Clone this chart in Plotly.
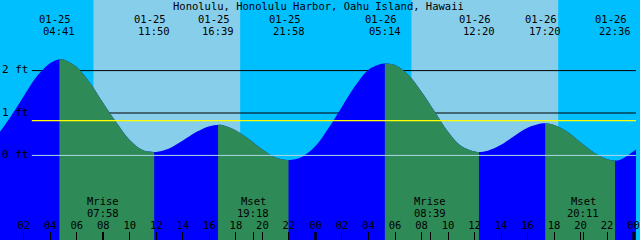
import plotly.graph_objects as go

TITLE = "Honolulu, Honolulu Harbor, Oahu Island, Hawaii"

# Tide height (ft), hours counted from 01-25 00:00
TIDE_HOURS = [0.0, 1.0, 2.0, 3.0, 4.0, 4.683, 5.0, 6.0, 7.0, 8.0, 9.0, 10.0, 11.0, 11.833,
              12.0, 13.0, 14.0, 15.0, 16.0, 16.65, 17.0, 18.0, 19.0, 20.0, 21.0, 21.967,
              23.0, 24.0, 25.0, 26.0, 27.0, 28.0, 29.0, 29.233, 30.0, 31.0, 32.0, 33.0,
              34.0, 35.0, 36.0, 36.333, 37.0, 38.0, 39.0, 40.0, 41.0, 41.333, 42.0, 43.0,
              44.0, 45.0, 46.0, 46.6, 47.0, 48.0, 48.5]
TIDE_FT = [0.47, 0.91, 1.40, 1.87, 2.18, 2.27, 2.26, 2.08, 1.71, 1.23, 0.77, 0.36, 0.12, 0.08,
           0.08, 0.17, 0.35, 0.55, 0.69, 0.72, 0.71, 0.59, 0.38, 0.14, -0.05, -0.11,
           -0.03, 0.22, 0.65, 1.15, 1.64, 2.02, 2.16, 2.17, 2.13, 1.90, 1.50, 1.03,
           0.56, 0.22, 0.09, 0.08, 0.11, 0.25, 0.46, 0.65, 0.75, 0.76, 0.72, 0.56,
           0.31, 0.07, -0.09, -0.12, -0.10, 0.10, 0.22]

# High / low tide events
EVENT_DAY = [0, 0, 0, 0, 1, 1, 1, 1]
EVENT_DATE = ["01-25", "01-25", "01-25", "01-25", "01-26", "01-26", "01-26", "01-26"]
EVENT_TIME = ["04:41", "11:50", "16:39", "21:58", "05:14", "12:20", "17:20", "22:36"]
EVENT_KIND = ["high", "low", "high", "low", "high", "low", "high", "low"]

# Moon rise / set
MOON_DAY = [0, 0, 1, 1]
MOON_NAME = ["Mrise", "Mset", "Mrise", "Mset"]
MOON_TIME = ["07:58", "19:18", "08:39", "20:11"]

# Daylight (sunrise / sunset) in hours
SUNRISE_HOURS = [7.25, 31.24]
SUNSET_HOURS = [18.32, 42.31]

DATUM_FT = [0, 1, 2]
DATUM_LABELS = ["0 ft", "1 ft", "2 ft"]
MEAN_LEVEL_FT = 0.82

TICK_HOURS = list(range(0, 49, 2))
TICK_LABELS = ["%02d" % (h % 24) for h in TICK_HOURS]
MIDNIGHT_HOURS = [24, 48]

# ---- styling ----
X_RANGE = [0.2024, 48.18]
Y_RANGE = [-1.995, 3.665]
NIGHT = "#00BFFF"
DAY = "#87CEEB"
RISE = "#0000FF"
FALL = "#2E8B57"
MONO = "DejaVu Sans Mono"
FONT = dict(family=MONO, size=10.5, color="black")
FONT_TITLE = dict(family=MONO, size=10.5, color="black")
FONT_FT = dict(family=MONO, size=11, color="black")
W, H = 640, 240


def hours(day, hhmm):
    hh, mm = hhmm.split(":")
    return day * 24 + int(hh) + int(mm) / 60.0


def frac(t):
    return (t - X_RANGE[0]) / (X_RANGE[1] - X_RANGE[0])


event_hours = [hours(d, t) for d, t in zip(EVENT_DAY, EVENT_TIME)]
moon_hours = [hours(d, t) for d, t in zip(MOON_DAY, MOON_TIME)]

fig = go.Figure()
layout_axes = {}


def add_fill(axis_id, color):
    fig.add_trace(go.Scatter(x=[TIDE_HOURS[0], TIDE_HOURS[-1]], y=[Y_RANGE[0] - 1] * 2,
                             mode="lines", line=dict(width=0), hoverinfo="skip",
                             showlegend=False, xaxis=axis_id, yaxis="y"))
    fig.add_trace(go.Scatter(x=TIDE_HOURS, y=TIDE_FT, mode="lines",
                             line=dict(width=0, shape="spline", smoothing=1),
                             fill="tonexty", fillcolor=color, hoverinfo="skip",
                             showlegend=False, xaxis=axis_id, yaxis="y"))


# rising colour everywhere (main axis)
add_fill("x", RISE)
layout_axes["xaxis"] = dict(range=X_RANGE, domain=[0, 1], visible=False, anchor="y")

# falling segments, each clipped to its own sub-axis
n = 2
for i, kind in enumerate(EVENT_KIND):
    if kind != "high" or i + 1 >= len(event_hours):
        continue
    t0, t1 = event_hours[i], event_hours[i + 1]
    add_fill("x%d" % n, FALL)
    layout_axes["xaxis%d" % n] = dict(range=[t0, t1], domain=[frac(t0), frac(t1)],
                                      visible=False, anchor="y")
    n += 1

# time axis with ticks on top of everything
tick_id = "x%d" % n
fig.add_trace(go.Scatter(x=[], y=[], xaxis=tick_id, yaxis="y", showlegend=False))
layout_axes["xaxis%d" % n] = dict(
    range=X_RANGE, domain=[0, 1], anchor="y", side="bottom",
    tickvals=TICK_HOURS + moon_hours, ticktext=TICK_LABELS + [""] * len(moon_hours),
    ticks="inside", ticklen=8, tickwidth=1, tickcolor="black",
    ticklabelposition="inside", ticklabeloverflow="allow",
    tickfont=FONT, showgrid=False, zeroline=False, showline=False)

shapes = []
for sr, ss in zip(SUNRISE_HOURS, SUNSET_HOURS):
    shapes.append(dict(type="rect", xref="x", yref="paper", x0=sr, x1=ss, y0=0, y1=1,
                       fillcolor=DAY, line=dict(width=0), layer="below"))
for lv in DATUM_FT:
    if lv == 0:
        continue
    shapes.append(dict(type="line", xref="paper", yref="y", x0=32 / W, x1=1, y0=lv, y1=lv,
                       line=dict(color="black", width=1), layer="below"))
shapes.append(dict(type="line", xref="paper", yref="y", x0=32 / W, x1=1,
                   y0=MEAN_LEVEL_FT, y1=MEAN_LEVEL_FT,
                   line=dict(color="#FFFF00", width=1.2), layer="above"))
shapes.append(dict(type="line", xref="paper", yref="y", x0=32 / W, x1=1, y0=0, y1=0,
                   line=dict(color="#ADD8E6", width=1), layer="above"))
for mh in MIDNIGHT_HOURS:
    shapes.append(dict(type="line", xref=tick_id, yref="paper", x0=mh, x1=mh, y0=0,
                       y1=8 / H, line=dict(color="black", width=2.5), layer="above"))

annotations = [dict(text=TITLE, xref="paper", yref="paper", x=0.5, y=1 - 6.3 / H,
                    xanchor="center", yanchor="middle", showarrow=False, font=FONT_TITLE,
                    borderpad=0)]
for lv, lab in zip(DATUM_FT, DATUM_LABELS):
    annotations.append(dict(text=lab, xref="paper", yref="y", x=1.0 / W, y=lv, yshift=1,
                            xanchor="left", yanchor="middle", showarrow=False,
                            font=FONT_FT, borderpad=0))
for t, d, s in zip(event_hours, EVENT_DATE, EVENT_TIME):
    annotations.append(dict(text=d, xref=tick_id, yref="paper", x=t, y=1 - 18.6 / H,
                            xshift=-4, xanchor="center", yanchor="middle",
                            showarrow=False, font=FONT, borderpad=0))
    annotations.append(dict(text=s, xref=tick_id, yref="paper", x=t, y=1 - 30.9 / H,
                            xanchor="center", yanchor="middle", showarrow=False, font=FONT,
                            borderpad=0))
for t, nm, s in zip(moon_hours, MOON_NAME, MOON_TIME):
    annotations.append(dict(text=nm, xref=tick_id, yref="paper", x=t, y=1 - 200.8 / H,
                            xanchor="center", yanchor="middle", showarrow=False, font=FONT,
                            borderpad=0))
    annotations.append(dict(text=s, xref=tick_id, yref="paper", x=t, y=1 - 213.0 / H,
                            xanchor="center", yanchor="middle", showarrow=False, font=FONT,
                            borderpad=0))

fig.update_layout(
    width=W, height=H, margin=dict(l=0, r=0, t=0, b=0, pad=0),
    paper_bgcolor=NIGHT, plot_bgcolor="rgba(0,0,0,0)",
    showlegend=False, shapes=shapes, annotations=annotations,
    yaxis=dict(range=Y_RANGE, domain=[0, 1], anchor="x", showticklabels=False,
               ticks="", showgrid=False, zeroline=False, showline=False),
    **layout_axes)

fig.write_html("out.html")
